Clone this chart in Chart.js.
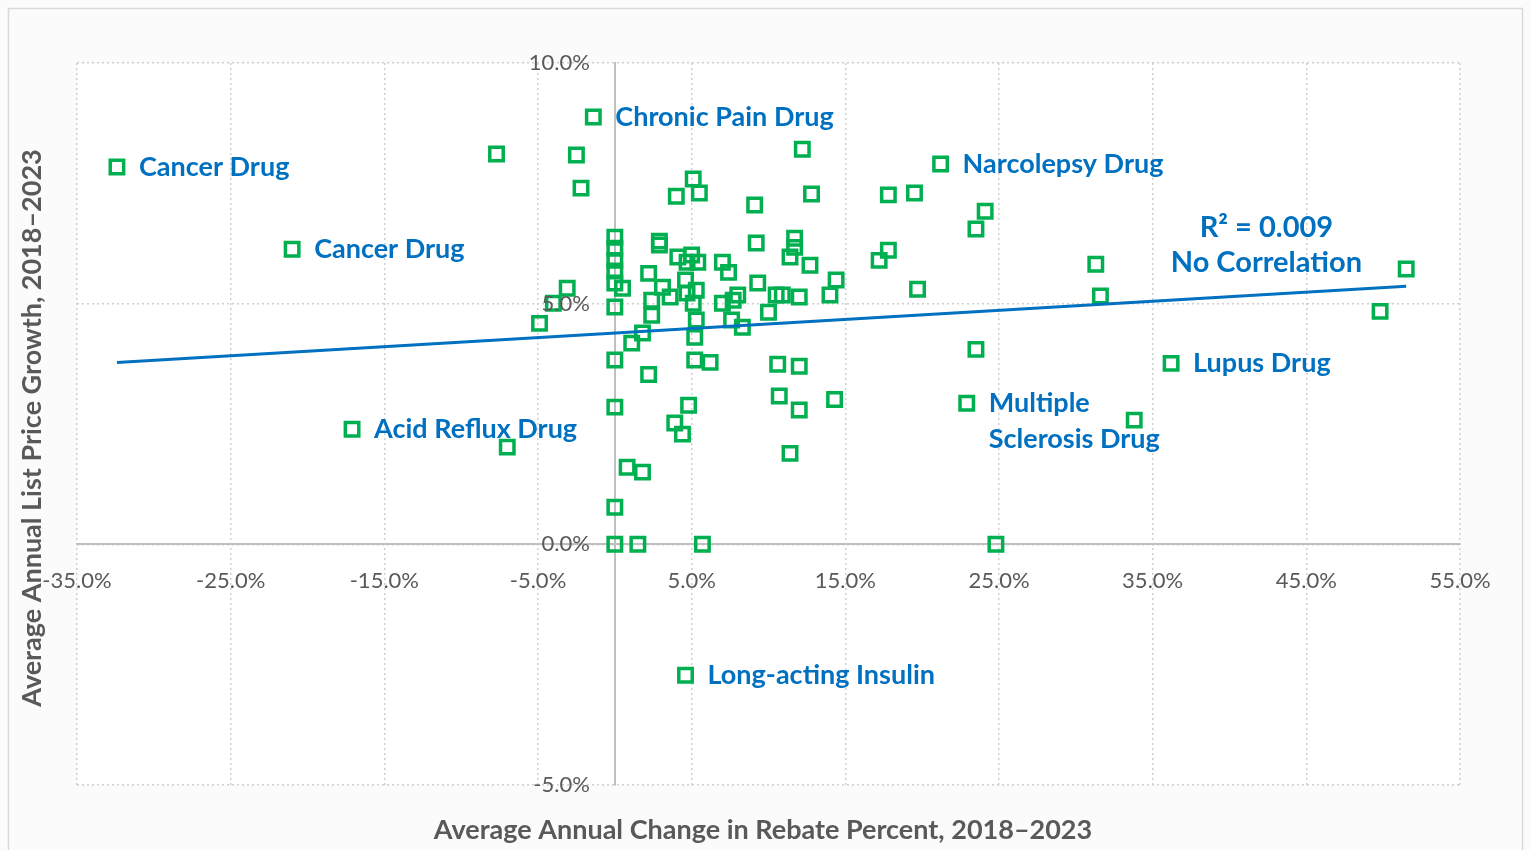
<!DOCTYPE html>
<html>
<head>
<meta charset="utf-8">
<script src="https://cdn.jsdelivr.net/npm/chart.js@4.4.1/dist/chart.umd.min.js"></script>
<style>
  html, body { margin: 0; padding: 0; background: #ffffff; }
  #wrap { position: relative; width: 1531px; height: 850px; }
</style>
</head>
<body>
<div id="wrap"><canvas id="chart" width="1531" height="850"></canvas></div>
<script>
// Unlabeled drugs: average annual change in rebate percent (x) and list price growth (y)
const rebateChange = [
  -7.7, -2.5, -2.2, 12.2, 5.1, 4.0, 5.5, 12.8, 9.1, 17.8,
  19.5, 24.1, 23.5, 0, 0, 0, 0, 0, 0, 0.5,
  2.9, 2.9, 2.2, 4.1, 5.0, 4.7, 5.4, 7.0, 7.4, 9.2,
  11.7, 11.7, 11.4, 12.7, 14.4, 14.0, 12.0, 10.9, 10.0, 9.3,
  8.0, 7.0, 7.7, 5.1, 4.7, 5.3, 4.6, 3.1, 3.6, 2.4,
  2.4, -3.1, -4.0, -4.9, 1.8, 5.3, 7.6, 8.3, 1.1, 5.2,
  0, 5.2, 6.2, 2.2, 10.6, 12.0, 0, 4.8, 3.9, 4.4,
  10.7, 12.0, 14.3, 11.4, 0.8, 1.8, 0, 0, 1.5, 5.7,
  24.8, 17.2, 17.8, 19.7, 31.3, 31.6, 51.5, 49.8, 23.5, 33.8,
  -7.0, 10.5
];
const priceGrowth = [
  8.11, 8.09, 7.40, 8.21, 7.59, 7.23, 7.30, 7.28, 7.05, 7.26,
  7.30, 6.92, 6.55, 6.38, 6.15, 5.90, 5.68, 5.43, 4.93, 5.32,
  6.22, 6.30, 5.63, 5.97, 6.01, 5.86, 5.86, 5.86, 5.65, 6.26,
  6.36, 6.17, 5.97, 5.80, 5.49, 5.18, 5.14, 5.18, 4.82, 5.43,
  5.18, 5.01, 5.07, 5.01, 5.22, 5.28, 5.49, 5.34, 5.14, 5.07,
  4.76, 5.32, 5.01, 4.59, 4.39, 4.66, 4.66, 4.51, 4.18, 4.30,
  3.83, 3.83, 3.78, 3.53, 3.74, 3.70, 2.85, 2.89, 2.52, 2.29,
  3.08, 2.79, 3.01, 1.89, 1.60, 1.50, 0.77, 0, 0, 0,
  0, 5.90, 6.11, 5.30, 5.82, 5.16, 5.72, 4.84, 4.05, 2.58,
  2.02, 5.18
];

// Named drugs
const namedDrugs = [
  ['Cancer Drug'], ['Cancer Drug'], ['Chronic Pain Drug'], ['Narcolepsy Drug'],
  ['Acid Reflux Drug'], ['Multiple', 'Sclerosis Drug'], ['Lupus Drug'], ['Long-acting Insulin']
];
const namedRebate = [-32.4, -21.0, -1.4, 21.2, -17.1, 22.9, 36.2, 4.6];
const namedGrowth = [7.84, 6.13, 8.88, 7.90, 2.39, 2.93, 3.76, -2.72];

// Linear trend line
const trendX = [-32.4, 51.5];
const trendY = [3.78, 5.36];
const rSquared = 0.009;

const GREEN = '#00B050';
const BLUE = '#0070C0';
const GREY = '#595959';
const FONT = 'Lato, "Open Sans", sans-serif';

const points = rebateChange.map((x, i) => ({ x: x, y: priceGrowth[i] }));
const namedPoints = namedRebate.map((x, i) => ({ x: x, y: namedGrowth[i] }));
const trendPoints = trendX.map((x, i) => ({ x: x, y: trendY[i] }));

const pct = v => v.toFixed(1) + '%';

// background, frame, y tick labels and text annotations
const decorPlugin = {
  id: 'decor',
  beforeDraw(chart) {
    const ctx = chart.ctx;
    const a = chart.chartArea;
    ctx.save();
    ctx.fillStyle = '#fbfbfb';
    ctx.fillRect(0, 0, chart.width, chart.height);
    ctx.strokeStyle = '#d9d9d9';
    ctx.lineWidth = 1.5;
    ctx.strokeRect(8.5, 8.5, chart.width - 17, chart.height + 20);
    ctx.fillStyle = '#ffffff';
    ctx.fillRect(a.left, a.top, a.right - a.left, a.bottom - a.top);
    ctx.restore();
  },
  afterDatasetsDraw(chart) {
    const ctx = chart.ctx;
    const xs = chart.scales.x;
    const ys = chart.scales.y;
    ctx.save();

    // y tick labels sit left of the x = 0 axis line
    ctx.fillStyle = GREY;
    ctx.font = '22px ' + FONT;
    ctx.textAlign = 'right';
    ctx.textBaseline = 'middle';
    const axisX = xs.getPixelForValue(0);
    ys.ticks.forEach(t => ctx.fillText(pct(t.value), axisX - 25, ys.getPixelForValue(t.value)));

    ctx.fillStyle = BLUE;
    ctx.font = 'bold 27px ' + FONT;
    ctx.textAlign = 'left';
    namedDrugs.forEach((lines, i) => {
      const px = xs.getPixelForValue(namedRebate[i]) + 22;
      const py = ys.getPixelForValue(namedGrowth[i]);
      lines.forEach((t, j) => ctx.fillText(t, px, py + j * 36));
    });

    ctx.font = 'bold 29px ' + FONT;
    ctx.textAlign = 'center';
    const rx = xs.getPixelForValue(42.4);
    ctx.fillText('R\u00b2 = ' + rSquared.toFixed(3), rx, ys.getPixelForValue(6.57));
    ctx.fillText('No Correlation', rx, ys.getPixelForValue(5.86));

    ctx.fillStyle = GREY;
    ctx.font = 'bold 27px ' + FONT;
    ctx.fillText('Average Annual Change in Rebate Percent, 2018\u20132023', 763, 830);
    ctx.translate(32, 428);
    ctx.rotate(-Math.PI / 2);
    ctx.fillText('Average Annual List Price Growth, 2018\u20132023', 0, 0);
    ctx.restore();
  }
};

new Chart(document.getElementById('chart'), {
  type: 'scatter',
  data: {
    datasets: [
      {
        label: 'Drugs',
        data: points,
        pointStyle: 'rect',
        pointRadius: 9.5,
        pointHoverRadius: 9.5,
        borderWidth: 3.5,
        pointBorderWidth: 3.5,
        borderColor: GREEN,
        backgroundColor: 'rgba(0,0,0,0)',
        order: 2
      },
      {
        label: 'Named drugs',
        data: namedPoints,
        pointStyle: 'rect',
        pointRadius: 9.5,
        pointHoverRadius: 9.5,
        borderWidth: 3.5,
        pointBorderWidth: 3.5,
        borderColor: GREEN,
        backgroundColor: 'rgba(0,0,0,0)',
        order: 2
      },
      {
        type: 'line',
        label: 'Trend',
        data: trendPoints,
        borderColor: BLUE,
        borderWidth: 3,
        pointRadius: 0,
        fill: false,
        order: 1
      }
    ]
  },
  options: {
    responsive: false,
    animation: false,
    layout: { padding: { left: 77, right: 71, top: 63, bottom: 65 } },
    plugins: {
      legend: { display: false },
      tooltip: { enabled: false }
    },
    scales: {
      x: {
        type: 'linear',
        position: { y: 0 },
        min: -35,
        max: 55,
        ticks: {
          stepSize: 10,
          padding: 23,
          color: GREY,
          font: { family: FONT, size: 22 },
          callback: v => pct(v),
          maxRotation: 0
        },
        grid: { color: '#cfcfcf', lineWidth: 1.5, drawTicks: false },
        border: { display: true, color: '#bfbfbf', width: 2, dash: [2, 3] }
      },
      y: {
        type: 'linear',
        position: { x: 0 },
        min: -5,
        max: 10,
        ticks: { stepSize: 5, display: false },
        grid: { color: '#cfcfcf', lineWidth: 1.5, drawTicks: false },
        border: { display: true, color: '#bfbfbf', width: 2, dash: [2, 3] }
      }
    }
  },
  plugins: [decorPlugin]
});
</script>
</body>
</html>
